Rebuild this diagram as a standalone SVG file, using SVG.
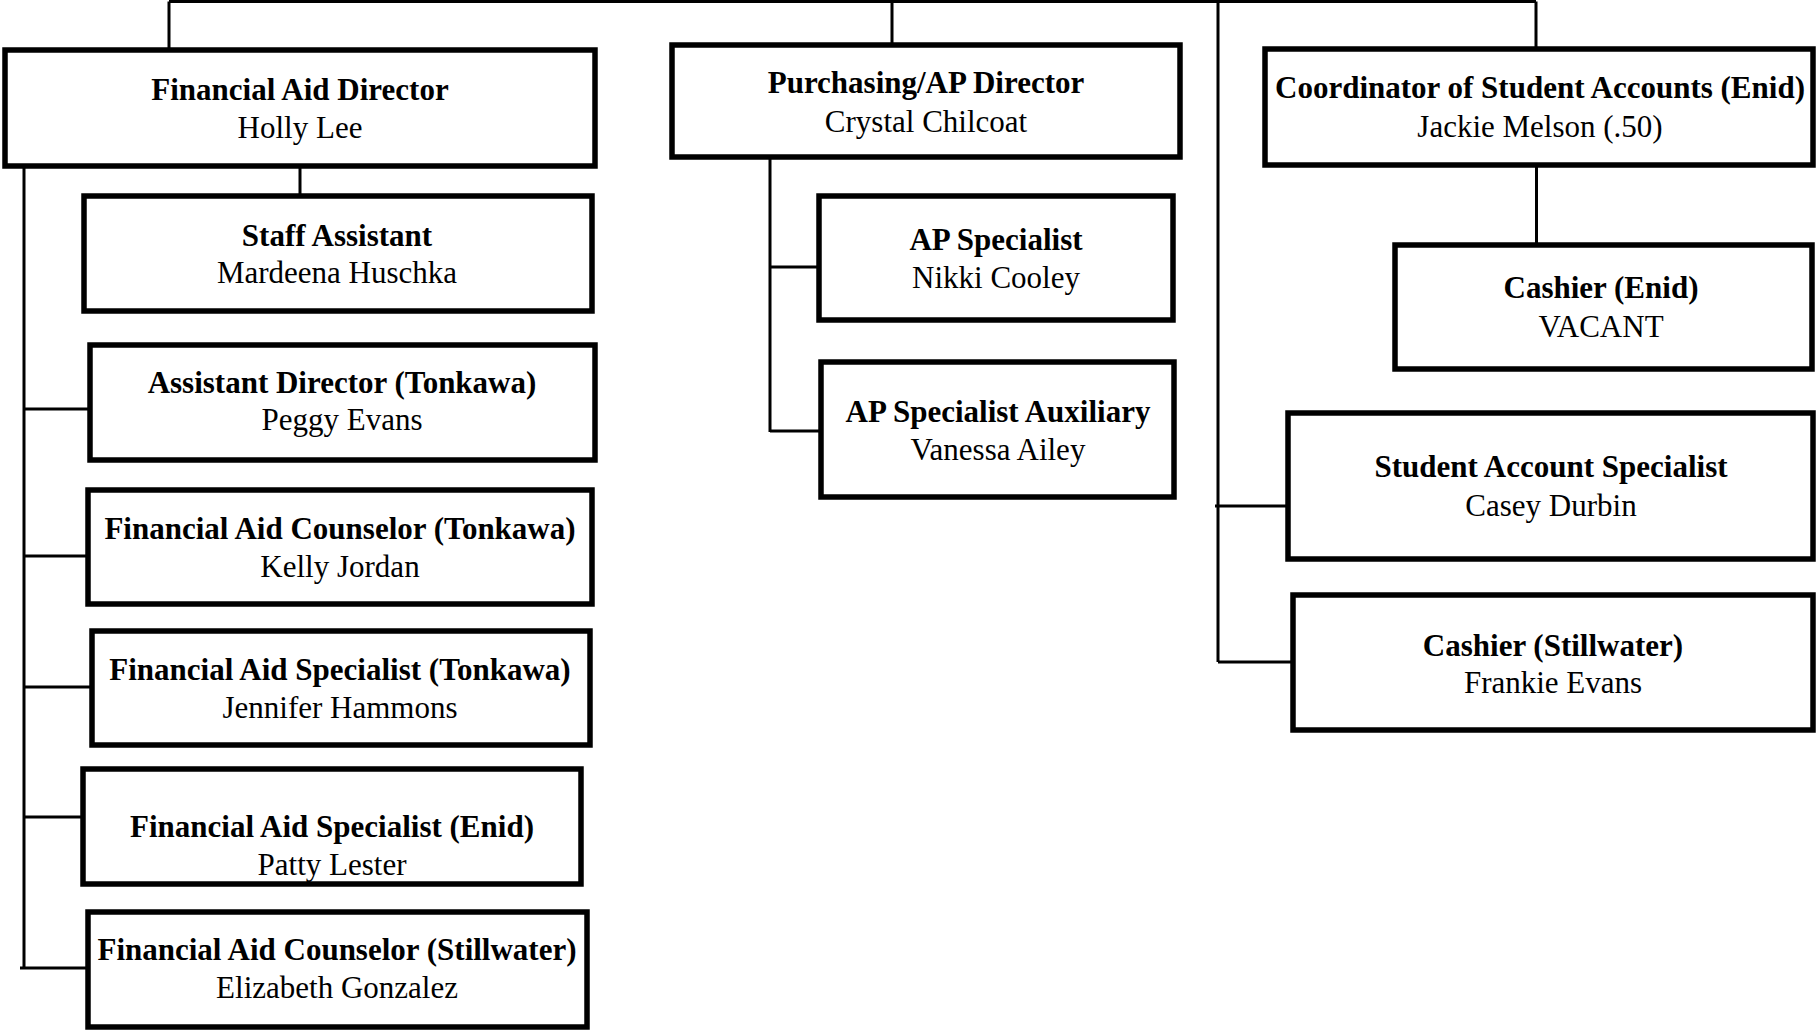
<svg xmlns="http://www.w3.org/2000/svg" width="1817" height="1030" viewBox="0 0 1817 1030">
<style>
.box{fill:#fff;stroke:#000;stroke-width:5.5}
.ln{fill:none;stroke:#000;stroke-width:3}
text{font-family:"Liberation Serif","Times New Roman",serif;font-size:31px;fill:#000;text-anchor:middle}
.t{font-weight:bold}
</style>
<rect width="1817" height="1030" fill="#fff"/>
<g id="connectors">
<path class="ln" d="M169,1.5 H1536 M169,1.5 V48 M892,1.5 V43 M1536,1.5 V47"/>
<path class="ln" d="M24,166 V968 M24,409 H88 M24,556 H86 M24,687 H90 M24,817 H81 M20,968 H86"/>
<path class="ln" d="M300,166 V194"/>
<path class="ln" d="M770,158 V432 M770,267 H817 M770,431 H819"/>
<path class="ln" d="M1218,1.5 V662 M1215,506 H1286 M1218,662 H1291"/>
<path class="ln" d="M1536.5,166 V243"/>
</g>
<g id="fad"><rect class="box" x="5" y="50" width="590" height="116"/><text class="t" x="300" y="100">Financial Aid Director</text><text x="300" y="138">Holly Lee</text></g>
<g id="staff"><rect class="box" x="84" y="196" width="508" height="115"/><text class="t" x="337" y="246">Staff Assistant</text><text x="337" y="283">Mardeena Huschka</text></g>
<g id="ad"><rect class="box" x="90" y="345" width="505" height="115"/><text class="t" x="342" y="393">Assistant Director (Tonkawa)</text><text x="342" y="430">Peggy Evans</text></g>
<g id="fact"><rect class="box" x="88" y="490" width="504" height="114"/><text class="t" x="340" y="539">Financial Aid Counselor (Tonkawa)</text><text x="340" y="577">Kelly Jordan</text></g>
<g id="fast"><rect class="box" x="92" y="631" width="498" height="114"/><text class="t" x="340" y="680">Financial Aid Specialist (Tonkawa)</text><text x="340" y="718">Jennifer Hammons</text></g>
<g id="fase"><rect class="box" x="83" y="769" width="498" height="115"/><text class="t" x="332" y="837">Financial Aid Specialist (Enid)</text><text x="332" y="875">Patty Lester</text></g>
<g id="facs"><rect class="box" x="88" y="912" width="499" height="115"/><text class="t" x="337" y="960">Financial Aid Counselor (Stillwater)</text><text x="337" y="998">Elizabeth Gonzalez</text></g>
<g id="pur"><rect class="box" x="672" y="45" width="508" height="112"/><text class="t" x="926" y="93">Purchasing/AP Director</text><text x="926" y="132">Crystal Chilcoat</text></g>
<g id="aps"><rect class="box" x="819" y="196" width="354" height="124"/><text class="t" x="996" y="250">AP Specialist</text><text x="996" y="288">Nikki Cooley</text></g>
<g id="apa"><rect class="box" x="821" y="362" width="353" height="135"/><text class="t" x="998" y="422">AP Specialist Auxiliary</text><text x="998" y="460">Vanessa Ailey</text></g>
<g id="coord"><rect class="box" x="1265" y="49" width="548" height="116"/><text class="t" x="1540" y="98">Coordinator of Student Accounts (Enid)</text><text x="1540" y="137">Jackie Melson (.50)</text></g>
<g id="cashe"><rect class="box" x="1395" y="245" width="417" height="124"/><text class="t" x="1601" y="298">Cashier (Enid)</text><text x="1601" y="337">VACANT</text></g>
<g id="sas"><rect class="box" x="1288" y="413" width="525" height="146"/><text class="t" x="1551" y="477">Student Account Specialist</text><text x="1551" y="516">Casey Durbin</text></g>
<g id="cashs"><rect class="box" x="1293" y="595" width="520" height="135"/><text class="t" x="1553" y="656">Cashier (Stillwater)</text><text x="1553" y="693">Frankie Evans</text></g>
</svg>
